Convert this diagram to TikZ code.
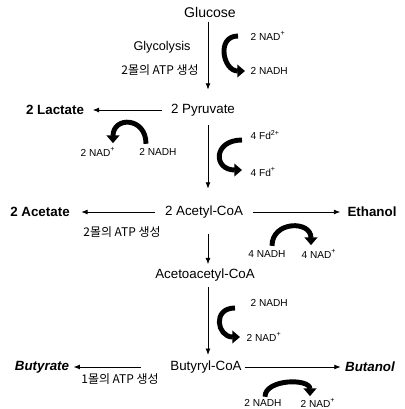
\documentclass[tikz,border=0pt]{standalone}
\usepackage{fontspec}
\setmainfont{Liberation Sans}
\newfontfamily\krfont{Noto Sans CJK KR}
\usepackage{tikz}
\usetikzlibrary{arrows.meta, calc}

\tikzset{
  metab/.style={font=\fontsize{9.5}{11}\selectfont, inner sep=1pt},
  product/.style={font=\fontsize{9.5}{11}\selectfont\bfseries, inner sep=1pt},
  cofactor/.style={font=\fontsize{7.2}{9}\selectfont, inner sep=1pt},
  atpnote/.style={font=\fontsize{8.5}{10}\selectfont\krfont, inner sep=1pt},
  flow/.style={line width=0.6pt, -{Latex[length=4.5pt,width=3.5pt]}},
  swoosh/.style={line width=3.5pt, -{Triangle[length=5.5pt,width=9pt]}},
}

\begin{document}
\begin{tikzpicture}[x=0.025cm, y=-0.025cm]
  \useasboundingbox (0,0) rectangle (404,409);
  \coordinate (col) at (208,0);

  % Glucose -> 2 Pyruvate
  \node[metab, font=\fontsize{10}{12}\selectfont] (glucose) at (210,12) {Glucose};
  \node[metab] (pyruvate) at (203,110) {2 Pyruvate};
  \node[metab, font=\fontsize{9}{11}\selectfont] (glycolysis) at (162,47) {Glycolysis};
  \node[atpnote] (atpA) at (160,70) {2몰의 ATP 생성};
  \node[cofactor, anchor=west] (nadA) at (249,36) {2 NAD\textsuperscript{+}};
  \node[cofactor, anchor=west] (nadhA) at (249,71) {2 NADH};
  \draw[flow, shorten <=2pt, shorten >=9pt] (col |- glucose.south) -- (col |- pyruvate.north);
  \draw[swoosh] ($(nadA.west)+(-11,0)$) .. controls +(-22,0) and +(-22,0) .. ($(nadhA.west)+(-4,0)$);

  % Lactate branch
  \node[product] (lactate) at (55,110) {2 Lactate};
  \node[cofactor] (nadB) at (98,152) {2 NAD\textsuperscript{+}};
  \node[cofactor] (nadhB) at (158,152) {2 NADH};
  \draw[flow, shorten <=5pt, shorten >=5pt] (pyruvate.west) -- (lactate.east);
  \draw[swoosh] ($(nadhB.north)+(-12,-3)$) .. controls +(0,-27) and +(0,-27) .. ($(nadB.north)+(15,-3)$);

  % 2 Pyruvate -> 2 Acetyl-CoA
  \node[metab] (acetyl) at (204,212) {2 Acetyl-CoA};
  \node[cofactor, anchor=west] (fdA) at (249,135) {4 Fd\textsuperscript{2+}};
  \node[cofactor, anchor=west] (fdB) at (249,172) {4 Fd\textsuperscript{+}};
  \draw[flow, shorten <=5pt, shorten >=11pt] (col |- pyruvate.south) -- (col |- acetyl.north);
  \draw[swoosh] ($(fdA.west)+(-7,5)$) .. controls +(-29,0) and +(-29,0) .. ($(fdB.west)+(-7,-2)$);

  % Acetate and Ethanol
  \node[product] (acetate) at (40,212) {2 Acetate};
  \node[product] (ethanol) at (372,212) {Ethanol};
  \node[atpnote] (atpB) at (122,232) {2몰의 ATP 생성};
  \node[cofactor] (nadhC) at (267,254) {4 NADH};
  \node[cofactor] (nadC) at (319,254) {4 NAD\textsuperscript{+}};
  \draw[flow, shorten <=6pt, shorten >=7pt] (acetyl.west) -- (acetate.east);
  \draw[flow, shorten <=6pt, shorten >=4pt] (acetyl.east) -- (ethanol.west);
  \draw[swoosh] ($(nadhC.north)+(5,-3)$) .. controls +(0,-25) and +(0,-25) .. ($(nadC.north)+(-8,-3)$);

  % Acetoacetyl-CoA
  \node[metab] (acetoacetyl) at (205,275) {Acetoacetyl-CoA};
  \draw[flow, shorten <=10pt, shorten >=2pt] (col |- acetyl.south) -- (col |- acetoacetyl.north);

  % Butyryl-CoA
  \node[metab] (butyryl) at (206,367) {Butyryl-CoA};
  \node[cofactor, anchor=west] (nadhD) at (249,303) {2 NADH};
  \node[cofactor, anchor=west] (nadD) at (245,337) {2 NAD\textsuperscript{+}};
  \draw[flow, shorten <=3pt, shorten >=3pt] (col |- acetoacetyl.south) -- (col |- butyryl.north);
  \draw[swoosh] ($(nadhD.west)+(-14,5)$) .. controls +(-23,0) and +(-23,0) .. ($(nadD.west)+(-5,0)$);

  % Butyrate and Butanol
  \node[product, font=\fontsize{9.5}{11}\selectfont\bfseries\itshape] (butyrate) at (42,367) {Butyrate};
  \node[product, font=\fontsize{9.5}{11}\selectfont\bfseries\itshape] (butanol) at (370,367) {Butanol};
  \node[atpnote] (atpC) at (120,379) {1몰의 ATP 생성};
  \node[cofactor] (nadhE) at (263,403) {2 NADH};
  \node[cofactor] (nadE) at (318,403) {2 NAD\textsuperscript{+}};
  \draw[flow, shorten <=20pt, shorten >=2pt] (butyryl.west) -- (butyrate.east);
  \draw[flow, shorten <=1pt, shorten >=2pt] (butyryl.east) -- (butanol.west);
  \draw[swoosh] ($(nadhE.north)+(2,-1)$) .. controls +(0,-18) and +(0,-18) .. ($(nadE.north)+(-8,-1)$);
\end{tikzpicture}
\end{document}
